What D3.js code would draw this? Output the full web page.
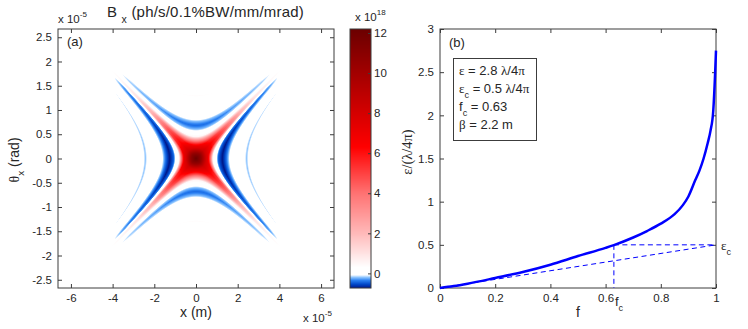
<!DOCTYPE html>
<html>
<head>
<meta charset="utf-8">
<script src="https://cdn.jsdelivr.net/npm/d3@7"></script>
<style>
body { margin: 0; background: #fff; }
svg text { font-family: "Liberation Sans", Arial, sans-serif; fill: #262626; }
svg .greek { font-family: "Liberation Serif", "DejaVu Serif", serif; }
</style>
</head>
<body>
<svg id="fig" width="748" height="329"></svg>
<script>
// ---- panel (a): X-shaped phase space map ----
// bands follow u = x^2 - (theta/armSlope)^2 (x in 1e-5 m, theta in 1e-5 rad)
const armSlope = 0.45;
const uKnots   = [-9.5, -8.3, -7, -3.3, -2.9, -2.3, -1.8, -1.5, -1.0, -0.6, -0.3, 0, 0.3, 0.5, 0.65, 0.8, 0.95, 1.15, 1.6, 2.2, 2.7, 3.0, 3.6, 4.3, 5.3, 5.9, 6.5, 9, 9.6, 10.3];
const redLobe  = [0, 0.15, 0, 0, 0, 0, 0, 0, 0.08, 0.57, 0.9, 1, 0.93, 0.5, 0.08, 0, 0, 0, 0, 0, 0, 0, 0.02, 0, 0, 0, 0, 0, 0, 0];
const blueLobe = [0, 0, 0, 0, -0.22, -0.42, -0.22, 0, 0, 0, 0, 0, 0, 0, 0, 0, 0, -0.45, -0.75, -0.35, 0, 0, 0, 0, 0, -0.25, 0, 0, -0.08, 0];
const rKnots   = [0, 0.25, 0.5, 1, 1.5, 2, 3, 4, 5, 6, 7, 8];
const redFade  = [1, 0.88, 0.68, 0.52, 0.44, 0.36, 0.18, 0.08, 0.04, 0.02, 0.009, 0];
const rKnotsB  = [0, 1.5, 2, 3, 4, 4.7, 5.2, 5.6];
const blueFade = [1, 1, 0.9, 0.7, 0.56, 0.44, 0.22, 0];
const peakValue = 12.2;

const xTicksA = [-6, -4, -2, 0, 2, 4, 6];
const yTicksA = [-2.5, -2, -1.5, -1, -0.5, 0, 0.5, 1, 1.5, 2, 2.5];
const cbTicks = [0, 2, 4, 6, 8, 10, 12];

// colour map of the colour bar (x 1e18)
const cmapStops  = [-0.73, -0.55, -0.35, -0.2, -0.08, 0.3, 2, 4, 6.3, 12.2];
const cmapColors = ["#001a8c", "#0046c8", "#2a80f2", "#8cc4ff", "#ffffff", "#ffffff", "#ffb9b9", "#ff7272", "#ff0000", "#6b0000"];

// ---- panel (b): emittance vs fraction ----
const fVals   = [0, 0.05, 0.1, 0.2, 0.3, 0.4, 0.5, 0.6, 0.63, 0.7, 0.75, 0.8, 0.85, 0.88, 0.9, 0.925, 0.94, 0.955, 0.97, 0.98, 0.99, 0.997, 1.0];
const epsVals = [0, 0.022, 0.05, 0.116, 0.185, 0.27, 0.37, 0.465, 0.497, 0.585, 0.66, 0.745, 0.855, 0.96, 1.06, 1.25, 1.36, 1.5, 1.68, 1.82, 2.05, 2.5, 2.75];
const epsTotal = 2.8, epsCore = 0.5, fCore = 0.63, betaVal = 2.2;
const fTicks   = [0, 0.2, 0.4, 0.6, 0.8, 1];
const epsTicks = [0, 0.5, 1, 1.5, 2, 2.5, 3];

const svg = d3.select("#fig");
const axisColor = "#3c3c3c";

const xA = d3.scaleLinear().domain([-6.62, 6.62]).range([58, 334]);
const yA = d3.scaleLinear().domain([-2.67, 2.67]).range([288, 29]);
const cbY = d3.scaleLinear().domain([-0.73, 12.2]).range([288, 29]);
const xB = d3.scaleLinear().domain([0, 1]).range([440, 716]);
const yB = d3.scaleLinear().domain([0, 3]).range([288, 29]);

const cmap = d3.scaleLinear().domain(cmapStops).range(cmapColors).clamp(true);
const redP = d3.scaleLinear().domain(uKnots).range(redLobe).clamp(true);
const blueP = d3.scaleLinear().domain(uKnots).range(blueLobe).clamp(true);
const redF = d3.scaleLinear().domain(rKnots).range(redFade).clamp(true);
const blueF = d3.scaleLinear().domain(rKnotsB).range(blueFade).clamp(true);

function rich(parent, x, y, parts, size, anchor) {
    const t = parent.append("text")
        .attr("x", x).attr("y", y)
        .attr("font-size", size)
        .attr("text-anchor", anchor || "start");
    let shift = 0;
    parts.forEach(p => {
        const target = p.sub ? 0.38 * size : p.sup ? -0.5 * size : 0;
        const ts = t.append("tspan").attr("dy", target - shift).text(p.t);
        if (p.sub || p.sup) ts.attr("font-size", size * 0.7);
        if (p.greek) ts.attr("class", "greek");
        shift = target;
    });
    return t;
}

function frame(g, x, y, opts) {
    const [x0, x1] = x.range(), [y0, y1] = [y.range()[1], y.range()[0]];
    g.append("g").attr("transform", `translate(0,${y1})`)
        .call(d3.axisBottom(x).tickValues(opts.xt).tickSize(-4).tickSizeOuter(0).tickPadding(6)
            .tickFormat(d => String(d)));
    g.append("g").attr("transform", `translate(0,${y0})`)
        .call(d3.axisTop(x).tickValues(opts.xt).tickSize(-4).tickSizeOuter(0).tickFormat(""));
    g.append("g").attr("transform", `translate(${x0},0)`)
        .call(d3.axisLeft(y).tickValues(opts.yt).tickSize(-4).tickSizeOuter(0).tickPadding(6)
            .tickFormat(d => String(d)));
    g.append("g").attr("transform", `translate(${x1},0)`)
        .call(d3.axisRight(y).tickValues(opts.yt).tickSize(-4).tickSizeOuter(0).tickFormat(""));
    g.selectAll(".tick text").attr("font-size", 11.5).attr("fill", "#262626");
    g.selectAll(".tick line").attr("stroke", axisColor);
    g.selectAll(".domain").attr("stroke", "none");
    g.append("rect")
        .attr("x", x0).attr("y", y0)
        .attr("width", x1 - x0).attr("height", y1 - y0)
        .attr("fill", "none").attr("stroke", axisColor).attr("stroke-width", 1);
}

// ---- heat map ----
const W = 276, H = 259;
const canvas = document.createElement("canvas");
canvas.width = W; canvas.height = H;
const ctx = canvas.getContext("2d");
const img = ctx.createImageData(W, H);
for (let j = 0; j < H; j++) {
    const t = yA.invert(29 + j + 0.5) / armSlope;
    for (let i = 0; i < W; i++) {
        const s = xA.invert(58 + i + 0.5);
        const u = s * s - t * t;
        const r = Math.sqrt(s * s + t * t);
        const v = peakValue * redP(u) * redF(r) + blueP(u) * blueF(r);
        const c = d3.rgb(cmap(v));
        const k = (j * W + i) * 4;
        img.data[k] = c.r; img.data[k + 1] = c.g; img.data[k + 2] = c.b; img.data[k + 3] = 255;
    }
}
ctx.putImageData(img, 0, 0);
svg.append("image")
    .attr("x", 58).attr("y", 29).attr("width", W).attr("height", H)
    .attr("href", canvas.toDataURL());

const gA = svg.append("g");
frame(gA, xA, yA, { xt: xTicksA, yt: yTicksA });

// colour bar
const gC = svg.append("g");
gC.selectAll("rect.cb")
    .data(d3.range(29, 288))
    .enter().append("rect")
    .attr("class", "cb")
    .attr("x", 350).attr("y", d => d)
    .attr("width", 21).attr("height", 1.05)
    .attr("fill", d => cmap(cbY.invert(d + 0.5)));
gC.append("g").attr("transform", "translate(371,0)")
    .call(d3.axisRight(cbY).tickValues(cbTicks).tickSize(-3).tickSizeOuter(0).tickPadding(3)
        .tickFormat(d => String(d)))
    .call(g => g.select(".domain").attr("stroke", "none"))
    .call(g => g.selectAll(".tick line").attr("stroke", axisColor))
    .call(g => g.selectAll(".tick text").attr("font-size", 11.5).attr("fill", "#262626"));
gC.append("rect").attr("x", 350).attr("y", 29).attr("width", 21).attr("height", 259)
    .attr("fill", "none").attr("stroke", axisColor);

// texts of panel (a)
rich(svg, 107, 17, [{ t: "B " }, { t: "x", sub: true }, { t: "  (ph/s/0.1%BW/mm/mrad)" }], 15)
    .attr("letter-spacing", 0.2);
rich(svg, 58, 23, [{ t: "x 10" }, { t: "-5", sup: true }], 11.5);
rich(svg, 303, 322, [{ t: "x 10" }, { t: "-5", sup: true }], 11.5);
rich(svg, 355, 21, [{ t: "x 10" }, { t: "18", sup: true }], 11.5);
rich(svg, 196, 317, [{ t: "x (m)" }], 14, "middle");
rich(svg, 67, 46, [{ t: "(a)" }], 13);
rich(svg, 0, 0, [{ t: "θ", greek: true }, { t: "x", sub: true }, { t: " (rad)" }], 14, "middle")
    .attr("transform", "translate(19,160) rotate(-90)");

// ---- panel (b) ----
const gB = svg.append("g");
frame(gB, xB, yB, { xt: fTicks, yt: epsTicks });

const dash = "5,3.5";
const guides = [
    [[fCore, epsCore], [1, epsCore]],
    [[fCore, epsCore], [fCore, 0]],
    [[0, 0], [1, epsCore]]
];
const guideLine = d3.line().x(d => xB(d[0])).y(d => yB(d[1]));
gB.selectAll("path.guide")
    .data(guides)
    .enter().append("path")
    .attr("class", "guide")
    .attr("d", guideLine)
    .attr("fill", "none").attr("stroke", "#0000ff").attr("stroke-width", 1)
    .attr("stroke-dasharray", dash);

gB.append("path")
    .datum(d3.zip(fVals, epsVals))
    .attr("d", d3.line().x(d => xB(d[0])).y(d => yB(d[1])).curve(d3.curveMonotoneX))
    .attr("fill", "none").attr("stroke", "#0000ff").attr("stroke-width", 2.5);

rich(svg, xB(1) + 5, yB(epsCore) + 5, [{ t: "ε", greek: true }, { t: "c", sub: true }], 13);
rich(svg, xB(fCore) + 1, 306, [{ t: "f" }, { t: "c", sub: true }], 13);
rich(svg, 578, 317, [{ t: "f" }], 14, "middle");
rich(svg, 449, 47, [{ t: "(b)" }], 13);
rich(svg, 0, 0, [{ t: "ε/(λ/4π)", greek: true }], 14.5, "middle")
    .attr("transform", "translate(412,152) rotate(-90)");

// legend box
svg.append("rect").attr("x", 453.5).attr("y", 58.5).attr("width", 83).attr("height", 82)
    .attr("fill", "#fff").attr("stroke", axisColor);
const legendRows = [
    [{ t: "ε", greek: true }, { t: " = " + epsTotal + " " }, { t: "λ", greek: true }, { t: "/4" }, { t: "π", greek: true }],
    [{ t: "ε", greek: true }, { t: "c", sub: true }, { t: " = " + epsCore + " " }, { t: "λ", greek: true }, { t: "/4" }, { t: "π", greek: true }],
    [{ t: "f" }, { t: "c", sub: true }, { t: " = " + fCore }],
    [{ t: "β", greek: true }, { t: " = " + betaVal + " m" }]
];
legendRows.forEach((row, i) => rich(svg, 459, 75 + i * 18, row, 13));
</script>
</body>
</html>
